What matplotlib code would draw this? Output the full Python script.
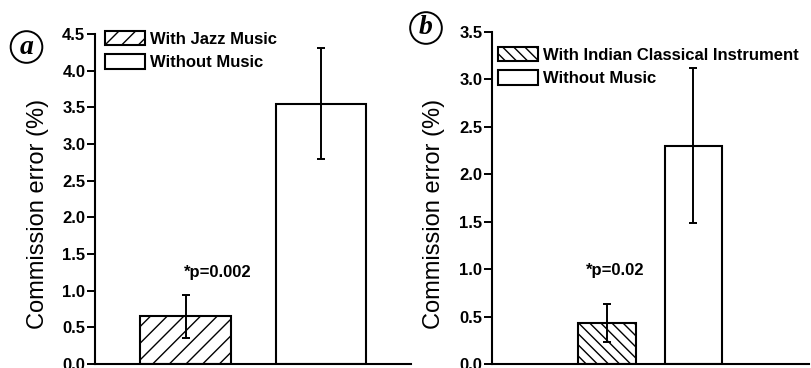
import matplotlib
matplotlib.use("Agg")
import matplotlib.pyplot as plt

plt.rcParams["font.family"] = ["Liberation Sans", "DejaVu Sans"]
plt.rcParams["hatch.linewidth"] = 1.0

# Panel (a): jazz music vs. no music
conds_a = ["With Jazz Music", "Without Music"]
means_a = [0.65, 3.55]
errs_a = [0.29, 0.76]
p_a = "*p=0.002"

# Panel (b): Indian classical instrument vs. no music
conds_b = ["With Indian Classical Instrument", "Without Music"]
means_b = [0.435, 2.30]
errs_b = [0.20, 0.82]
p_b = "*p=0.02"

yticks_a = [0.0, 0.5, 1.0, 1.5, 2.0, 2.5, 3.0, 3.5, 4.0, 4.5]
yticks_b = [0.0, 0.5, 1.0, 1.5, 2.0, 2.5, 3.0, 3.5]

W, H = 811, 368
fig = plt.figure(figsize=(W / 100, H / 100), dpi=100)
fig.patch.set_facecolor("white")


def px_rect(x0, x1, ytop, ybot):
    return [x0 / W, 1 - ybot / H, (x1 - x0) / W, (ybot - ytop) / H]


def panel(rect, conds, means, errs, hatch, yticks, ymax, xlim, ptext, pxy,
          leg_anchor, letter, letter_xy, ylab_y):
    ax = fig.add_axes(rect)
    xs = [1, 2]
    bars = ax.bar(xs, means, width=0.67, color="white", edgecolor="black",
                  linewidth=1.5, zorder=2)
    bars[0].set_hatch(hatch)
    ax.errorbar(xs, means, yerr=errs, fmt="none", ecolor="black",
                elinewidth=1.4, capsize=3.2, capthick=1.4, zorder=3)
    ax.set_xlim(*xlim)
    ax.set_ylim(0, ymax)
    ax.set_yticks(yticks)
    ax.set_yticklabels([f"{t:.1f}" for t in yticks], fontsize=12,
                       fontweight="bold")
    ax.set_xticks([])
    for s in ("top", "right"):
        ax.spines[s].set_visible(False)
    for s in ("left", "bottom"):
        ax.spines[s].set_linewidth(1.5)
    ax.tick_params(axis="y", direction="out", length=5.5, width=1.4, pad=1.5)
    ax.set_ylabel("Commission error (%)", fontsize=17)
    ax.yaxis.set_label_coords(-0.147, ylab_y)
    ax.text(pxy[0], pxy[1], ptext, fontsize=12, fontweight="bold",
            ha="center", va="baseline")
    ax.legend(bars, conds, loc="upper left", bbox_to_anchor=leg_anchor,
              bbox_transform=fig.transFigure, frameon=False, borderpad=0,
              borderaxespad=0, handlelength=2.4, handleheight=0.95,
              handletextpad=0.3, labelspacing=0.45,
              prop={"weight": "bold", "size": 12})
    fig.text(letter_xy[0] / W, 1 - letter_xy[1] / H, letter,
             family="Liberation Serif", style="italic", fontweight="bold",
             fontsize=20, ha="center", va="center",
             bbox=dict(boxstyle="circle,pad=0.12", fc="white", ec="black",
                       lw=1.4))
    return ax


panel(px_rect(95, 411, 34, 364), conds_a, means_a, errs_a, "//", yticks_a,
      4.5, (0.332, 2.664), p_a, (1.24, 1.19), (105 / W, 1 - 31 / H),
      "a", (26.5, 47), 0.455)
panel(px_rect(492, 809, 31.7, 364), conds_b, means_b, errs_b, "\\\\\\",
      yticks_b, 3.5, (-0.329, 3.335), p_b, (1.09, 0.94),
      (498 / W, 1 - 47 / H), "b", (426, 28), 0.453)

fig.savefig("out.png", dpi=100, facecolor="white")
